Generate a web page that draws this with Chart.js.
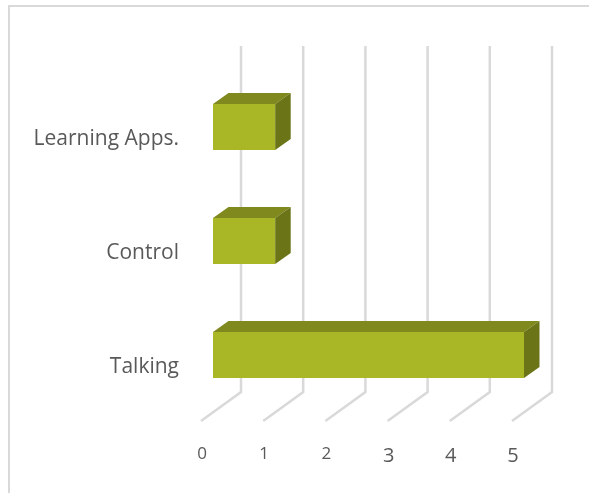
<!DOCTYPE html>
<html>
<head>
<meta charset="utf-8">
<style>
  html, body { margin: 0; padding: 0; background: #fff; overflow: hidden; }
  #wrap { position: relative; width: 589px; height: 493px; }
  #frame { position: absolute; left: 8px; top: 5px; right: 0; bottom: 0; border-top: 2px solid #d9d9d9; border-left: 2px solid #d9d9d9; }
  canvas { position: absolute; left: 0; top: 0; }
</style>
<script src="https://cdn.jsdelivr.net/npm/chart.js@4/dist/chart.umd.min.js"></script>
</head>
<body>
<div id="wrap">
  <div id="frame"></div>
  <canvas id="chart" width="589" height="493"></canvas>
</div>
<script>
const categories = ['Learning Apps.', 'Control', 'Talking'];
const values = [1, 1, 5];
const axisMax = 5;

const FONT = '"Open Sans", sans-serif';
const TEXT = '#595959';
const GRID = '#d9d9d9';
const FRONT = '#a9b626';
const TOP_FACE = '#7f891d';
const SIDE_FACE = '#6b7518';

// 3D offsets, in pixels
const DEPTH_X = 15.5, DEPTH_Y = -11;
const WALL_X = 28, WALL_TOP = -24, WALL_BOTTOM = -20;
const FLOOR_X = -40, FLOOR_Y = 29;

function poly(ctx, color, pts) {
  ctx.fillStyle = color;
  ctx.beginPath();
  pts.forEach((p, i) => i ? ctx.lineTo(p[0], p[1]) : ctx.moveTo(p[0], p[1]));
  ctx.closePath();
  ctx.fill();
}

// back wall and floor lines follow the x scale ticks
const wallGrid = {
  id: 'wallGrid',
  beforeDatasetsDraw(chart) {
    const { ctx, chartArea, scales } = chart;
    ctx.save();
    ctx.strokeStyle = GRID;
    ctx.lineWidth = 2.5;
    scales.x.ticks.forEach(t => {
      const x = scales.x.getPixelForValue(t.value) + WALL_X;
      const bottom = chartArea.bottom + WALL_BOTTOM;
      ctx.beginPath();
      ctx.moveTo(x, chartArea.top + WALL_TOP);
      ctx.lineTo(x, bottom);
      ctx.lineTo(x + FLOOR_X, bottom + FLOOR_Y);
      ctx.stroke();
    });
    ctx.restore();
  }
};

// top and side faces taken from each bar element
const barFaces = {
  id: 'barFaces',
  afterDatasetsDraw(chart) {
    const { ctx } = chart;
    ctx.save();
    chart.getDatasetMeta(0).data.forEach(bar => {
      const top = bar.y - bar.height / 2, bottom = bar.y + bar.height / 2;
      poly(ctx, TOP_FACE, [[bar.base, top], [bar.x, top], [bar.x + DEPTH_X, top + DEPTH_Y], [bar.base + DEPTH_X, top + DEPTH_Y]]);
      poly(ctx, SIDE_FACE, [[bar.x, top], [bar.x + DEPTH_X, top + DEPTH_Y], [bar.x + DEPTH_X, bottom + DEPTH_Y], [bar.x, bottom]]);
    });
    ctx.restore();
  }
};

new Chart(document.getElementById('chart'), {
  type: 'bar',
  data: {
    labels: categories,
    datasets: [{
      data: values,
      backgroundColor: FRONT,
      borderWidth: 0,
      barPercentage: 46 / 114,
      categoryPercentage: 1
    }]
  },
  plugins: [wallGrid, barFaces],
  options: {
    indexAxis: 'y',
    responsive: false,
    animation: false,
    layout: { padding: { top: 70, right: 65, left: 0, bottom: 0 } },
    plugins: { legend: { display: false }, tooltip: { enabled: false } },
    scales: {
      x: {
        min: 0,
        max: axisMax,
        grid: { display: false },
        border: { display: false },
        afterFit(scale) { scale.height = 81; },
        ticks: {
          stepSize: 1,
          color: TEXT,
          padding: 25,
          labelOffset: -11,
          maxRotation: 0,
          // old-style figures: 3, 4, 5 sit lower than 0, 1, 2
          font(c) {
            const low = c.tick && c.tick.value >= 3;
            return { family: FONT, size: low ? 20 : 17, lineHeight: low ? '23px' : '19px' };
          }
        }
      },
      y: {
        grid: { display: false },
        border: { display: false },
        afterFit(scale) { scale.width = 213; },
        ticks: {
          color: TEXT,
          padding: 26,
          labelOffset: 12,
          font: { family: FONT, size: 21 }
        }
      }
    }
  }
});
</script>
</body>
</html>
